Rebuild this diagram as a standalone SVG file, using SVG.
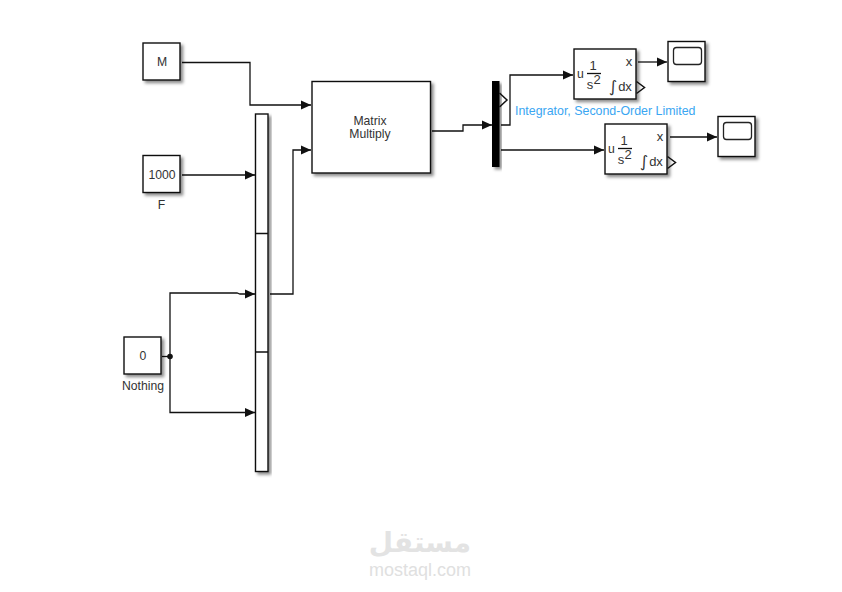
<svg xmlns="http://www.w3.org/2000/svg" width="842" height="592" viewBox="0 0 842 592">
<style>
.b{fill:#fff;stroke:#111;stroke-width:1.4;filter:url(#s)}
.w{fill:none;stroke:#111;stroke-width:1.3}
.t{font-family:"Liberation Sans",Arial,sans-serif;font-size:12.2px;fill:#333;text-anchor:middle}
.m{font-size:13px}
.i{font-family:"DejaVu Sans",sans-serif;font-size:16px;font-style:italic}
.p{fill:none;stroke:#111;stroke-width:1.5}
</style>
<defs>
<filter id="s" x="-30%" y="-30%" width="160%" height="160%"><feDropShadow dx="2.5" dy="2.5" stdDeviation="1.6" flood-color="#000" flood-opacity="0.45"/></filter>
<marker id="a" markerUnits="userSpaceOnUse" markerWidth="11" markerHeight="10" refX="10" refY="5" orient="auto"><path d="M0 0.500L10 5L0 9.500Z" fill="#111"/></marker>
</defs>
<rect width="842" height="592" fill="#fff"/>
<g id="connectors">
<path class="w" marker-end="url(#a)" d="M182 62.500H250V105H311"/>
<path class="w" marker-end="url(#a)" d="M182 175H255"/>
<path class="w" d="M162 356.500H170"/>
<path class="w" marker-end="url(#a)" d="M170 356.500V293H237L240 294H255"/>
<path class="w" marker-end="url(#a)" d="M170 356.500V412.500H255"/>
<circle cx="170" cy="356.500" r="2.800" fill="#111"/>
<path class="w" marker-end="url(#a)" d="M270 294H293V150H311"/>
<path class="w" marker-end="url(#a)" d="M432 131H463V125H492"/>
<path class="w" marker-end="url(#a)" d="M501 125H510V75H573"/>
<path class="w" marker-end="url(#a)" d="M501 150H604"/>
<path class="w" marker-end="url(#a)" d="M638 62H667"/>
<path class="w" marker-end="url(#a)" d="M670 137H717"/>
</g>
<g id="block-m"><rect class="b" x="143" y="43" width="37" height="37"/><text class="t" x="162" y="66">M</text></g>
<g id="block-f"><rect class="b" x="143" y="155.500" width="37" height="37"/><text class="t" x="162" y="178.500">1000</text><text class="t" x="161.500" y="209">F</text></g>
<g id="block-nothing"><rect class="b" x="124" y="337" width="37" height="37"/><text class="t" x="143" y="360">0</text><text class="t" x="143" y="390">Nothing</text></g>
<g id="block-concat"><rect class="b" x="255.500" y="114" width="12.500" height="357.500"/><path class="w" d="M255.500 233.500H268M255.500 352H268"/></g>
<g id="block-matrix"><rect class="b" x="312" y="81.500" width="118.500" height="91.500"/><text class="t" x="370" y="124.500">Matrix</text><text class="t" x="370" y="138">Multiply</text></g>
<g id="block-demux"><rect x="492" y="81" width="7.500" height="86" fill="#000" filter="url(#s)"/><path class="p" d="M499.500 93L507 100L499.500 107"/></g>
<g id="integrator-1"><rect class="b" x="574" y="49" width="62" height="50"/>
<text class="t" x="580.500" y="78">u</text><text class="t m" x="593" y="69.500">1</text><path class="w" d="M587 73.500H601"/><text class="t m" x="590" y="88.500">s</text><text class="t m" x="597" y="83.500">2</text><text class="t m" x="629" y="66">x</text>
<text class="t i" x="613" y="92">∫</text><text class="t m" x="625" y="90.500">dx</text>
<path class="p" d="M636.500 81.500L644.500 87.500L636.500 93.500"/></g>
<text id="integrator-label" x="515" y="114.500" style="font-family:'Liberation Sans',Arial,sans-serif;font-size:12.400px;fill:#3aa6f2">Integrator, Second-Order Limited</text>
<g id="integrator-2"><rect class="b" x="605" y="124" width="62" height="50"/>
<text class="t" x="611.500" y="153">u</text><text class="t m" x="624" y="144.500">1</text><path class="w" d="M618 148.500H632"/><text class="t m" x="621" y="163.500">s</text><text class="t m" x="628" y="158.500">2</text><text class="t m" x="660" y="141">x</text>
<text class="t i" x="644" y="167">∫</text><text class="t m" x="656" y="165.500">dx</text>
<path class="p" d="M667.500 156.500L675.500 162.500L667.500 168.500"/></g>
<g id="scope-1"><rect class="b" x="668" y="41.500" width="37" height="40"/><rect x="673.500" y="47.500" width="28" height="17" rx="3" fill="none" stroke="#222" stroke-width="1.300"/></g>
<g id="scope-2"><rect class="b" x="718" y="116.500" width="37" height="40"/><rect x="723.500" y="122.500" width="28" height="17" rx="3" fill="none" stroke="#222" stroke-width="1.300"/></g>
<g id="watermark"><text x="420" y="552" style="font-family:'DejaVu Sans','Noto Sans',sans-serif;font-size:28px;font-weight:bold;fill:#e3e3e3;text-anchor:middle" direction="rtl">مستقل</text><text x="420" y="576" style="font-family:'Liberation Sans',Arial,sans-serif;font-size:18px;fill:#e0e0e0;text-anchor:middle">mostaql.com</text></g>
</svg>
